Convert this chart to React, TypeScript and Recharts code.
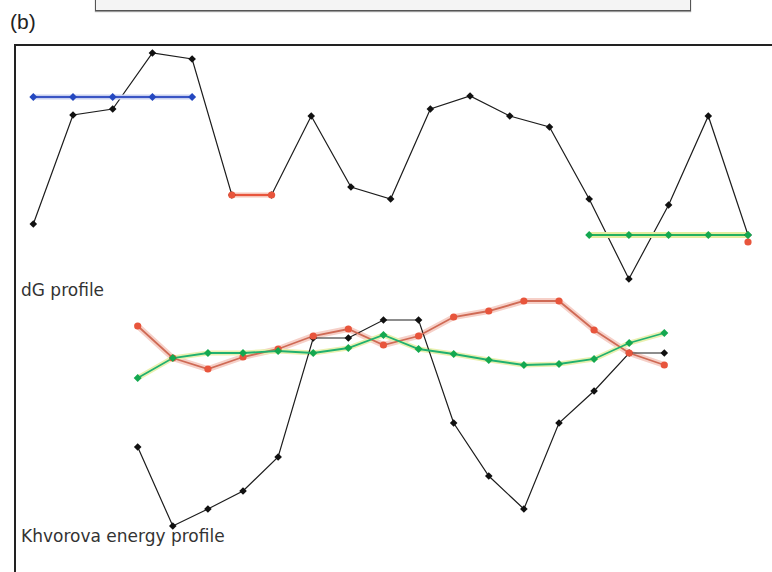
import { LineChart, Line, XAxis, YAxis } from 'recharts';

// upper panel: dG profile, 19 positions
const dgPositions = [0, 1, 2, 3, 4, 5, 6, 7, 8, 9, 10, 11, 12, 13, 14, 15, 16, 17, 18];
const dgProfile = [6.1, 17.0, 17.6, 23.2, 22.6, 9.0, 9.0, 16.9, 9.8, 8.6, 17.6, 18.9, 16.9, 15.8, 8.6, 0.6, 8.0, 16.9, 5.0];
const dgBlue = [18.8, 18.8, 18.8, 18.8, 18.8, null, null, null, null, null, null, null, null, null, null, null, null, null, null];
const dgRed = [null, null, null, null, null, 9.0, 9.0, null, null, null, null, null, null, null, null, null, null, null, 4.3];
const dgGreen = [null, null, null, null, null, null, null, null, null, null, null, null, null, null, 5.0, 5.0, 5.0, 5.0, 5.0];

// lower panel: Khvorova energy profile, 16 positions
const khPositions = [0, 1, 2, 3, 4, 5, 6, 7, 8, 9, 10, 11, 12, 13, 14, 15];
const khBlack = [9.3, 1.4, 3.1, 4.9, 8.3, 20.2, 20.2, 22.0, 22.0, 11.7, 6.4, 3.1, 11.7, 14.9, 18.7, 18.7];
const khRed = [21.4, 18.2, 17.1, 18.3, 19.1, 20.4, 21.1, 19.5, 20.4, 22.3, 22.9, 23.9, 23.9, 21.0, 18.7, 17.5];
const khGreen = [16.2, 18.2, 18.7, 18.7, 18.9, 18.7, 19.2, 20.5, 19.1, 18.6, 18.0, 17.5, 17.6, 18.1, 19.7, 20.7];

const dgData = dgPositions.map((p, i) => ({
  pos: p,
  dg: dgProfile[i],
  blue: dgBlue[i],
  red: dgRed[i],
  green: dgGreen[i],
}));

const khData = khPositions.map((p, i) => ({
  pos: p,
  black: khBlack[i],
  red: khRed[i],
  green: khGreen[i],
}));

const W = 772;
const H = 572;

// small diamond marker like the original applet
function marker(color: string, size = 3.8) {
  return (props: any) => {
    const { cx, cy, index } = props;
    if (cx == null || cy == null) return <g key={`m-${index}`} />;
    return (
      <path
        key={`m-${index}`}
        d={`M${cx - size},${cy} L${cx},${cy - size} L${cx + size},${cy} L${cx},${cy + size} Z`}
        fill={color}
      />
    );
  };
}

function roundDot(color: string) {
  return (props: any) => {
    const { cx, cy, index } = props;
    if (cx == null || cy == null) return <g key={`d-${index}`} />;
    return <circle key={`d-${index}`} cx={cx} cy={cy} r={3.6} fill={color} />;
  };
}

const axes = (domain: [number, number], xMax: number) => [
  <XAxis key="x" type="number" dataKey="pos" domain={[0, xMax]} hide />,
  <YAxis key="y" type="number" domain={domain} hide />,
];

const labelFont = '"DejaVu Sans", Verdana, sans-serif';

export default function App() {
  return (
    <div style={{ position: 'absolute', left: 0, top: 0, width: W, height: H, background: '#fff', overflow: 'hidden' }}>
      {/* cut-off panel above */}
      <div
        style={{
          position: 'absolute', left: 95, top: -4, width: 594, height: 13,
          border: '1px solid #555', background: '#f4f4f4', boxShadow: '0 1px 1px #999',
        }}
      />
      <div style={{ position: 'absolute', left: 10, top: 10, fontFamily: '"Liberation Sans", Arial, sans-serif', fontSize: 21, color: '#222' }}>
        (b)
      </div>

      {/* frame */}
      <div style={{ position: 'absolute', left: 14, top: 44, width: W, height: H, borderLeft: '2px solid #222', borderTop: '2px solid #222' }} />

      <div style={{ position: 'absolute', left: 0, top: 0 }}>
        <LineChart width={W} height={H} data={dgData} margin={{ left: 33.3, right: W - 748, top: 45, bottom: H - 285 }}>
          {axes([0, 24], 18)}
          <Line dataKey="dg" stroke="#1c1c1c" strokeWidth={1.2} dot={marker('#111')} isAnimationActive={false} />
          <Line dataKey="blue" stroke="#c8d0f0" strokeWidth={5} dot={false} connectNulls={false} isAnimationActive={false} />
          <Line dataKey="blue" stroke="#3a55c4" strokeWidth={2} dot={marker('#2448c0', 4)} isAnimationActive={false} />
          <Line dataKey="red" stroke="#f6c4b8" strokeWidth={5} dot={false} isAnimationActive={false} />
          <Line dataKey="red" stroke="#e8553c" strokeWidth={2} dot={roundDot('#e8553c')} isAnimationActive={false} />
          <Line dataKey="green" stroke="#e6eca0" strokeWidth={6} dot={false} isAnimationActive={false} />
          <Line dataKey="green" stroke="#22b060" strokeWidth={2} dot={marker('#14a850', 4)} isAnimationActive={false} />
        </LineChart>
      </div>

      <div style={{ position: 'absolute', left: 0, top: 0 }}>
        <LineChart width={W} height={H} data={khData} margin={{ left: 137.7, right: W - 664.3, top: 290, bottom: H - 540 }}>
          {axes([0, 25], 15)}
          <Line dataKey="red" stroke="#f6d0c8" strokeWidth={6} dot={false} isAnimationActive={false} />
          <Line dataKey="green" stroke="#eaf0b0" strokeWidth={5} dot={false} isAnimationActive={false} />
          <Line dataKey="black" stroke="#1c1c1c" strokeWidth={1.2} dot={marker('#111')} isAnimationActive={false} />
          <Line dataKey="red" stroke="#cf6a55" strokeWidth={1.8} dot={roundDot('#e8553c')} isAnimationActive={false} />
          <Line dataKey="green" stroke="#20b070" strokeWidth={1.8} dot={marker('#14a850', 4)} isAnimationActive={false} />
        </LineChart>
      </div>

      <div style={{ position: 'absolute', left: 21, top: 280, fontFamily: labelFont, fontSize: 17, color: '#333' }}>
        dG profile
      </div>
      <div style={{ position: 'absolute', left: 21, top: 526, fontFamily: labelFont, fontSize: 17, color: '#333' }}>
        Khvorova energy profile
      </div>
    </div>
  );
}
